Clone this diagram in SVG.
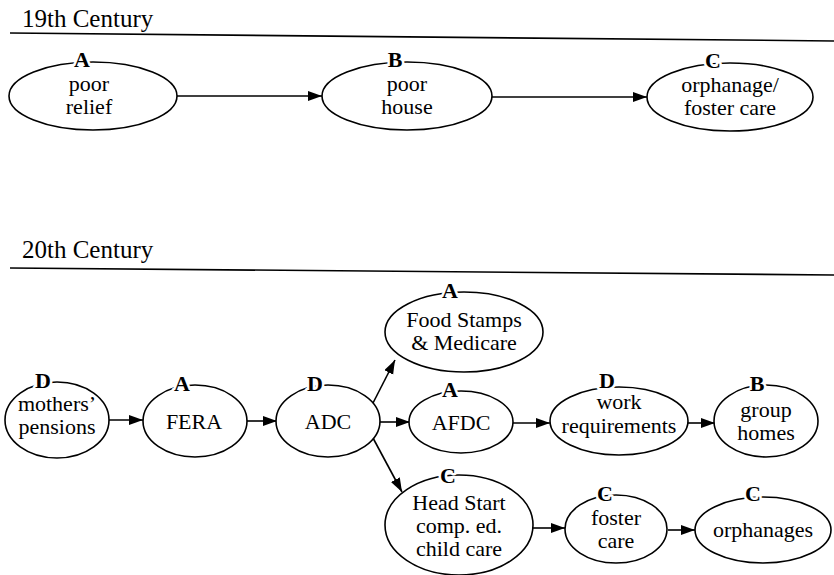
<svg xmlns="http://www.w3.org/2000/svg" width="834" height="575" viewBox="0 0 834 575" font-family="Liberation Serif, serif">
  <style>
    .heading { font-size: 25px; fill: #000; }
    .rule { stroke: #000; stroke-width: 1.6; fill: none; }
    .node ellipse { fill: #fff; stroke: #000; stroke-width: 1.6; }
    .node text { font-size: 22px; text-anchor: middle; fill: #000; }
    .node text.tag { font-size: 22px; font-weight: bold; stroke: #fff; stroke-width: 5; paint-order: stroke; stroke-linejoin: round; }
    .edge { stroke: #000; stroke-width: 1.6; fill: none; marker-end: url(#head); }
  </style>
  <defs>
    <marker id="head" markerUnits="userSpaceOnUse" markerWidth="16" markerHeight="12" refX="14" refY="5" orient="auto">
      <path d="M0,0 L14,5 L0,10 z" fill="#000"/>
    </marker>
  </defs>

  <rect width="834" height="575" fill="#fff"/>

  <!-- section headings with their rules -->
  <text class="heading" x="22" y="27">19th Century</text>
  <line class="rule" x1="10" y1="33" x2="834" y2="41"/>
  <text class="heading" x="22" y="258">20th Century</text>
  <line class="rule" x1="10" y1="268" x2="834" y2="275"/>

  <!-- connectors -->
  <g id="connectors">
    <line class="edge" x1="177" y1="96" x2="322" y2="96"/>
    <line class="edge" x1="492" y1="97" x2="647" y2="97"/>

    <line class="edge" x1="108" y1="420" x2="143" y2="420"/>
    <line class="edge" x1="247" y1="421" x2="277" y2="421"/>
    <line class="edge" x1="373" y1="403" x2="395" y2="360"/>
    <line class="edge" x1="380" y1="422" x2="410" y2="422"/>
    <line class="edge" x1="373" y1="438" x2="402" y2="492"/>
    <line class="edge" x1="513" y1="423" x2="550" y2="423"/>
    <line class="edge" x1="688" y1="423" x2="715" y2="423"/>
    <line class="edge" x1="533" y1="528" x2="565" y2="528"/>
    <line class="edge" x1="668" y1="530" x2="695" y2="530"/>
  </g>

  <!-- 19th century -->
  <g id="poor-relief" class="node">
    <ellipse cx="93" cy="96" rx="84" ry="34"/>
    <text class="tag" x="82" y="67">A</text>
    <text x="89" y="91">poor</text>
    <text x="89" y="114">relief</text>
  </g>
  <g id="poor-house" class="node">
    <ellipse cx="407" cy="96" rx="85" ry="34"/>
    <text class="tag" x="395" y="67">B</text>
    <text x="407" y="91">poor</text>
    <text x="407" y="114">house</text>
  </g>
  <g id="orphanage-foster-care" class="node">
    <ellipse cx="730" cy="97" rx="83" ry="34"/>
    <text class="tag" x="713" y="68">C</text>
    <text x="730" y="92">orphanage/</text>
    <text x="730" y="115">foster care</text>
  </g>

  <!-- 20th century -->
  <g id="mothers-pensions" class="node">
    <ellipse cx="57" cy="420" rx="52" ry="38"/>
    <text class="tag" x="43" y="388">D</text>
    <text x="57" y="411">mothers’</text>
    <text x="57" y="434">pensions</text>
  </g>
  <g id="fera" class="node">
    <ellipse cx="195" cy="421" rx="52" ry="36"/>
    <text class="tag" x="182" y="391">A</text>
    <text x="194" y="429">FERA</text>
  </g>
  <g id="adc" class="node">
    <ellipse cx="328" cy="421" rx="52" ry="36"/>
    <text class="tag" x="315" y="391">D</text>
    <text x="328" y="429">ADC</text>
  </g>
  <g id="food-stamps-medicare" class="node">
    <ellipse cx="464" cy="332" rx="79" ry="40"/>
    <text class="tag" x="450" y="298">A</text>
    <text x="464" y="327">Food Stamps</text>
    <text x="464" y="350">&amp; Medicare</text>
  </g>
  <g id="afdc" class="node">
    <ellipse cx="461" cy="422" rx="52" ry="31"/>
    <text class="tag" x="450" y="397">A</text>
    <text x="461" y="430">AFDC</text>
  </g>
  <g id="work-requirements" class="node">
    <ellipse cx="619" cy="421" rx="69" ry="34"/>
    <text class="tag" x="607" y="388">D</text>
    <text x="619" y="409">work</text>
    <text x="619" y="433">requirements</text>
  </g>
  <g id="group-homes" class="node">
    <ellipse cx="766" cy="421" rx="52" ry="36"/>
    <text class="tag" x="757" y="391">B</text>
    <text x="766" y="417">group</text>
    <text x="766" y="440">homes</text>
  </g>
  <g id="head-start" class="node">
    <ellipse cx="459" cy="525" rx="74" ry="50"/>
    <text class="tag" x="448" y="483">C</text>
    <text x="459" y="510">Head Start</text>
    <text x="459" y="533">comp. ed.</text>
    <text x="459" y="556">child care</text>
  </g>
  <g id="foster-care" class="node">
    <ellipse cx="616" cy="529" rx="51" ry="34"/>
    <text class="tag" x="605" y="501">C</text>
    <text x="616" y="525">foster</text>
    <text x="616" y="548">care</text>
  </g>
  <g id="orphanages" class="node">
    <ellipse cx="763" cy="530" rx="68" ry="33"/>
    <text class="tag" x="753" y="501">C</text>
    <text x="763" y="537">orphanages</text>
  </g>
</svg>
